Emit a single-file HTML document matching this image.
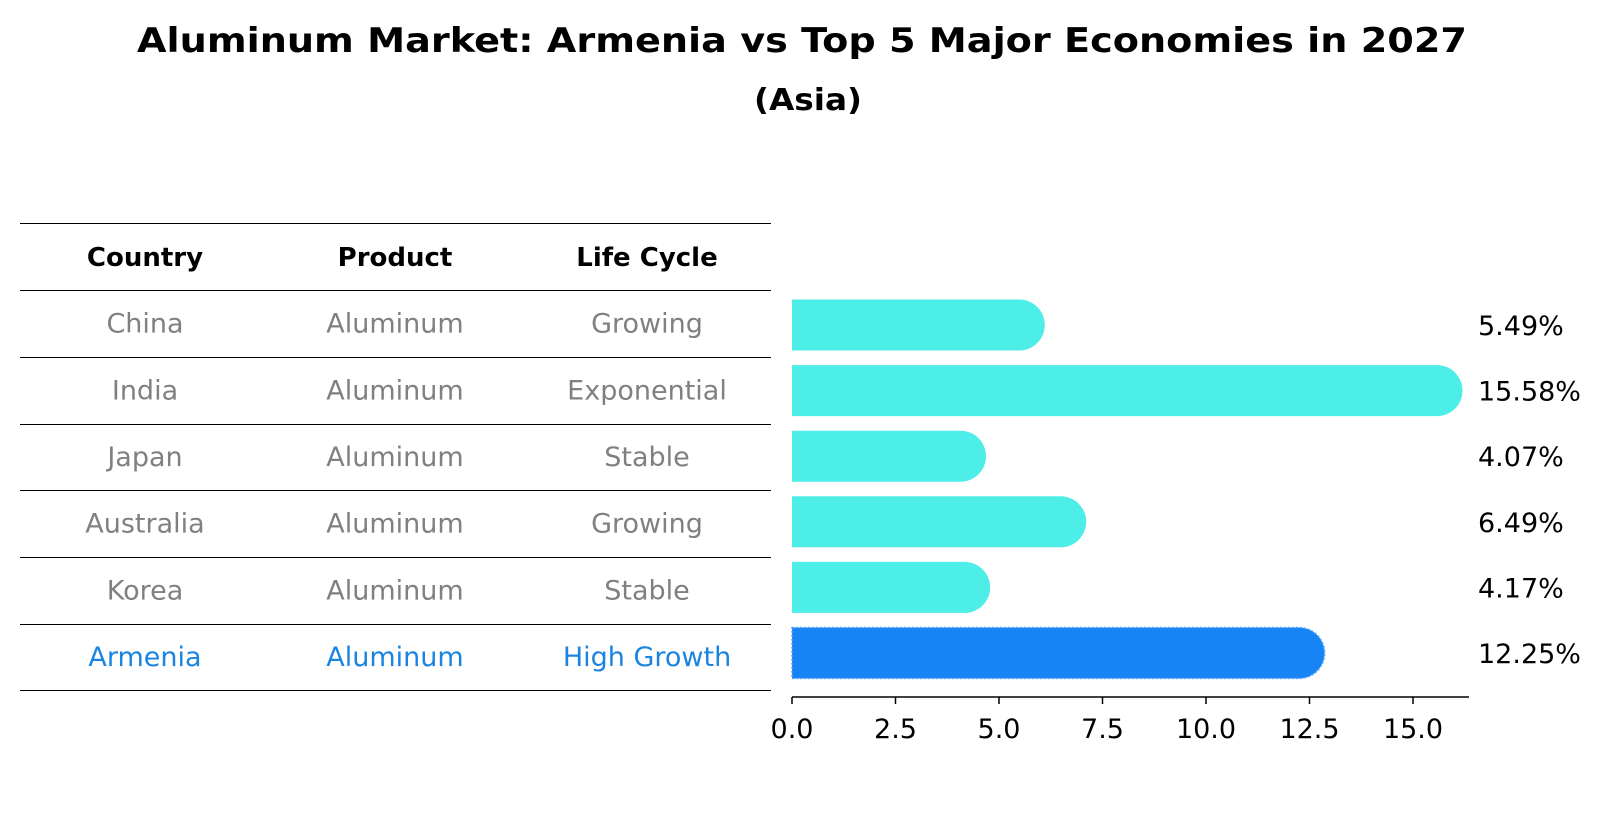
<!DOCTYPE html>
<html><head><meta charset="utf-8"><style>html,body{margin:0;padding:0;background:#fff}svg{display:block}text{font-family:"DejaVu Sans","Liberation Sans",sans-serif}</style></head>
<body>
<svg id="chart" width="1604" height="823" viewBox="0 0 1604 823">
<text x="802" y="52" text-anchor="middle" font-size="34" font-weight="bold" textLength="1330" lengthAdjust="spacingAndGlyphs">Aluminum Market: Armenia vs Top 5 Major Economies in 2027</text>
<text x="808" y="110" text-anchor="middle" font-size="30" font-weight="bold" textLength="108" lengthAdjust="spacingAndGlyphs">(Asia)</text>
<g id="table"></g>
<g id="bars"></g>
</svg>
<script>
const countries=["China","India","Japan","Australia","Korea","Armenia"];
const products=["Aluminum","Aluminum","Aluminum","Aluminum","Aluminum","Aluminum"];
const lifeCycles=["Growing","Exponential","Stable","Growing","Stable","High Growth"];
const values=[5.49,15.58,4.07,6.49,4.17,12.25];
const ticks=[0,2.5,5,7.5,10,12.5,15];
const NS="http://www.w3.org/2000/svg";
function mk(tag,attrs,parent,txt){const e=document.createElementNS(NS,tag);for(const k in attrs)e.setAttribute(k,attrs[k]);if(txt!==undefined)e.textContent=txt;parent.appendChild(e);return e;}
const tbl=document.getElementById('table');
const lines=[223,290,357,424,490,557,624,690];
lines.forEach((y,i)=>{const l=mk('line',{x1:20,x2:771,y1:y+0.5,y2:y+0.5,stroke:'#000','stroke-width':1},tbl);

});
const colX=[145,395,647];
const hdr=["Country","Product","Life Cycle"];
hdr.forEach((h,i)=>{const t=mk('text',{x:colX[i],y:266,'text-anchor':'middle','font-size':26,'font-weight':'bold'},tbl,h);

});
countries.forEach((c,r)=>{const yc=(lines[r+1]+lines[r+2])/2+9;const col=r===countries.length-1?'#1a84e0':'#808080';
[c,products[r],lifeCycles[r]].forEach((v,i)=>{const t=mk('text',{x:colX[i],y:yc,'text-anchor':'middle','font-size':27,fill:col},tbl,v);

});});
const g=document.getElementById('bars');
const x0=792,pxPer=(1413-792)/15;
const X=v=>x0+v*pxPer;
const rowY=r=>325+r*65.6;
const bh=51;
values.forEach((v,r)=>{const cy=rowY(r);const arm=r===values.length-1;const fill=arm?'#1784f5':'#4deee8';
const w=X(v)-x0;
const p=mk('path',{d:`M${x0},${cy-bh/2} H${x0+w} A${bh/2},${bh/2} 0 0 1 ${x0+w},${cy+bh/2} H${x0} Z`,fill:fill},g);
if(arm){p.setAttribute('stroke','#5aa8f8');p.setAttribute('stroke-dasharray','2,2');p.setAttribute('stroke-width','1.5');}


const t=mk('text',{x:1478,y:cy+10,'font-size':27,fill:'#000'},g,v.toFixed(2)+'%');

});
const ax=mk('line',{x1:x0,x2:1469,y1:697,y2:697,stroke:'#000','stroke-width':1.5},g);


ticks.forEach(tv=>{const tk=mk('line',{x1:X(tv),x2:X(tv),y1:697,y2:704,stroke:'#000','stroke-width':1.5},g);


const tl=mk('text',{x:X(tv),y:738,'text-anchor':'middle','font-size':27},g,tv.toFixed(1));

});
</script>
</body></html>
